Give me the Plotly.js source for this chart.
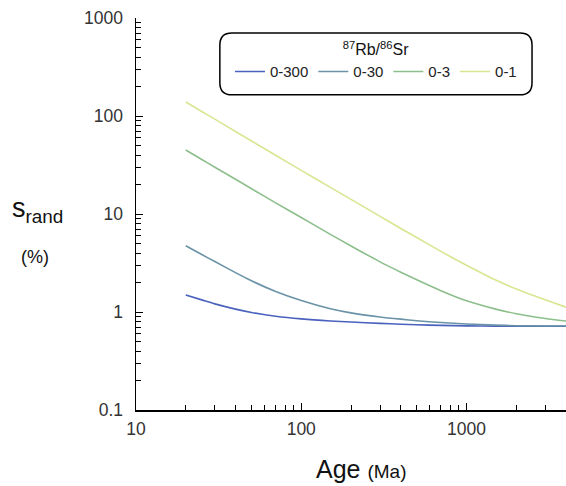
<!DOCTYPE html>
<html>
<head>
<meta charset="utf-8">
<script src="https://cdn.plot.ly/plotly-3.0.1.min.js"></script>
<style>html,body{margin:0;padding:0;background:#fff;}#chart{width:566px;height:486px;}</style>
</head>
<body>
<div id="chart"></div>
<script>
// Age (Ma)
const ages = [20, 25, 30, 40, 50, 70, 100, 150, 200, 300, 400, 500, 700, 1000, 1500, 2000, 3000, 4000];
// s_rand (%) for each 87Rb/86Sr range
const s_0_300 = [1.49, 1.33, 1.21, 1.07, 0.99, 0.905, 0.85, 0.81, 0.79, 0.765, 0.75, 0.74, 0.73, 0.722, 0.718, 0.716, 0.715, 0.715];
const s_0_30  = [4.75, 3.86, 3.27, 2.52, 2.08, 1.62, 1.31, 1.08, 0.98, 0.89, 0.845, 0.815, 0.78, 0.755, 0.735, 0.725, 0.72, 0.72];
const s_0_3   = [45, 36, 30, 22.6, 18.1, 13.0, 9.2, 6.2, 4.72, 3.25, 2.55, 2.13, 1.65, 1.30, 1.07, 0.96, 0.86, 0.81];
const s_0_1   = [139, 111, 93, 69.5, 55.6, 39.8, 27.9, 18.7, 14.1, 9.45, 7.12, 5.75, 4.15, 3.0, 2.12, 1.72, 1.33, 1.12];
const seriesNames = ['0-300', '0-30', '0-3', '0-1'];
const seriesVals = [s_0_300, s_0_30, s_0_3, s_0_1];
const seriesColors = ['#4a62bd', '#6a93a8', '#8dbf8c', '#d6e791'];
const xTickVals = [10, 100, 1000];
const yTickVals = [0.1, 1, 10, 100, 1000];

const font = 'Liberation Sans, Arial, Helvetica, sans-serif';
const traces = seriesNames.map((n, i) => ({
  x: ages, y: seriesVals[i], name: n, type: 'scatter', mode: 'lines',
  line: {color: seriesColors[i], width: 1.6, shape: 'spline', smoothing: 0.6}
}));

// rounded legend box (paper coords)
const x0 = 0.195, x1 = 0.921, y0 = 0.804, y1 = 0.962, rx = 0.028, ry = 0.031;
const boxPath = `M${x0+rx},${y1} L${x1-rx},${y1} Q${x1},${y1} ${x1},${y1-ry} L${x1},${y0+ry} Q${x1},${y0} ${x1-rx},${y0} L${x0+rx},${y0} Q${x0},${y0} ${x0},${y0+ry} L${x0},${y1-ry} Q${x0},${y1} ${x0+rx},${y1} Z`;

const axisCommon = {
  type: 'log',
  showline: true, linecolor: '#000', linewidth: 1.5, mirror: false,
  showgrid: false, zeroline: false,
  ticks: 'inside', ticklen: 7, tickcolor: '#000', tickwidth: 1,
  tickfont: {family: font, size: 17.5, color: '#333'},
  minor: {ticks: 'inside', ticklen: 5, tickcolor: '#000', tickwidth: 1, dtick: 'D1', showgrid: false},
  fixedrange: true
};

const layout = {
  width: 566, height: 486,
  margin: {l: 136, r: 0, t: 18, b: 76},
  paper_bgcolor: '#fff', plot_bgcolor: '#fff',
  font: {family: font, color: '#222', size: 16},
  showlegend: true,
  legend: {
    orientation: 'h', x: 0.558, xanchor: 'center', y: 0.958, yanchor: 'top',
    bgcolor: 'rgba(0,0,0,0)', borderwidth: 0,
    font: {family: font, size: 15, color: '#222'},
    itemwidth: 30,
    title: {text: '<sup>87</sup>Rb/<sup>86</sup>Sr', side: 'top center', font: {family: font, size: 16, color: '#111'}}
  },
  xaxis: Object.assign({}, axisCommon, {
    range: [1, Math.log10(4000)],
    tickvals: xTickVals, ticktext: xTickVals.map(String),
    ticklabelstandoff: 2
  }),
  yaxis: Object.assign({}, axisCommon, {
    range: [-1, 3],
    tickvals: yTickVals, ticktext: yTickVals.map(String),
    ticklabelstandoff: 8
  }),
  shapes: [{type: 'path', xref: 'paper', yref: 'paper', path: boxPath, line: {color: '#000', width: 1.5}, fillcolor: 'rgba(0,0,0,0)'}],
  annotations: [
    {xref: 'paper', yref: 'paper', x: (361-136)/430, y: (410-469)/392, text: 'Age <span style="font-size:19px">(Ma)</span>', showarrow: false, font: {family: font, size: 25, color: '#111'}, xanchor: 'center', yanchor: 'middle'},
    {xref: 'paper', yref: 'paper', x: (37-136)/430, y: (410-210)/392, text: 's<sub>rand</sub>', showarrow: false, font: {family: font, size: 27, color: '#111'}, xanchor: 'center', yanchor: 'middle'},
    {xref: 'paper', yref: 'paper', x: (35-136)/430, y: (410-257)/392, text: '(%)', showarrow: false, font: {family: font, size: 18, color: '#111'}, xanchor: 'center', yanchor: 'middle'}
  ]
};

Plotly.newPlot('chart', traces, layout, {displayModeBar: false, staticPlot: true});
</script>
</body>
</html>
